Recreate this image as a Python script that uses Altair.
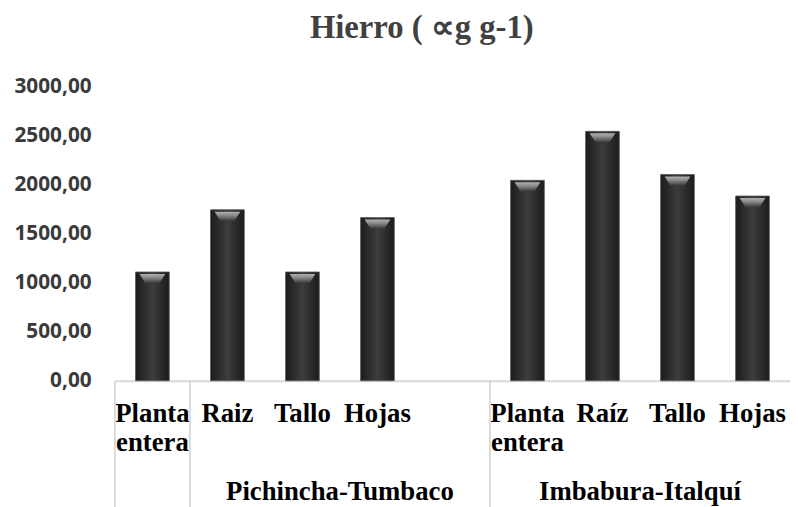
import altair as alt
import pandas as pd

title_text = "Hierro ( ∝g g-1)"
categories = ["Planta entera", "Raiz", "Tallo", "Hojas", "",
              "Planta entera", "Raíz", "Tallo", "Hojas"]
sites = ["", "Pichincha-Tumbaco", "Pichincha-Tumbaco", "Pichincha-Tumbaco",
         "Pichincha-Tumbaco", "Imbabura-Italquí", "Imbabura-Italquí",
         "Imbabura-Italquí", "Imbabura-Italquí"]
iron = [1110, 1745, 1110, 1665, None, 2045, 2545, 2105, 1885]
y_ticks = [0, 500, 1000, 1500, 2000, 2500, 3000]

keys = [f"{i}|{c}" for i, c in enumerate(categories)]
df = pd.DataFrame({"key": keys, "site": sites, "iron": iron})

sep_keys = [keys[i] for i in range(len(keys)) if i == 0 or sites[i] != sites[i - 1]]
group_rows = []
for s in dict.fromkeys(sites):
    if not s:
        continue
    idx = [i for i, v in enumerate(sites) if v == s]
    group_rows.append({"key": keys[idx[len(idx) // 2]], "site": s})

W, H = 682, 297

x_scale = alt.Scale(domain=keys, paddingInner=0, paddingOuter=0)
x_axis = alt.Axis(
    title=None,
    labelExpr="split(split(datum.label, '|')[1], ' ')",
    labelAngle=0, labelFont="Liberation Serif", labelFontWeight="bold",
    labelFontSize=27, labelColor="#000000", labelLineHeight=29,
    labelBaseline="top", labelPadding=20, labelAlign="center",
    ticks=False, tickSize=0, domainColor="#d9d9d9", domainWidth=2,
    grid=False, labelOverlap=False, labelLimit=0,
)
x_enc = alt.X("key:N", scale=x_scale, axis=x_axis, sort=keys)
x_edge = alt.X("key:N", scale=x_scale, axis=x_axis, sort=keys, bandPosition=0)

y_scale = alt.Scale(domain=[0, 3000], nice=False)
y_axis = alt.Axis(
    title=None, values=y_ticks,
    labelExpr="replace(format(datum.value, '.2f'), '.', ',')",
    labelFont="Open Sans", labelFontWeight="bold", labelFontSize=21,
    labelColor="#3a3a3a", labelPadding=24, ticks=False, tickSize=0,
    domain=False, grid=False,
)

bar_fill = alt.Gradient(
    gradient="linear", x1=0, x2=1, y1=0, y2=0,
    stops=[alt.GradientStop(offset=0, color="#1b1b1b"),
           alt.GradientStop(offset=0.5, color="#3d3d3d"),
           alt.GradientStop(offset=1, color="#1b1b1b")],
)
bars = alt.Chart(df).mark_bar(
    width=alt.RelativeBandSize(0.45), fill=bar_fill,
    stroke="#5a5a5a", strokeWidth=0.8,
).encode(x=x_enc, y=alt.Y("iron:Q", scale=y_scale, axis=y_axis))

hl_fill = alt.Gradient(
    gradient="linear", x1=0, x2=0, y1=0, y2=1,
    stops=[alt.GradientStop(offset=0, color="#b0b0b0"),
           alt.GradientStop(offset=0.4, color="#8a8a8a"),
           alt.GradientStop(offset=1, color="#3a3a3a")],
)
highlight = alt.Chart(df).mark_point(
    shape="M-1,0L1,0L0.55,0.7L-0.55,0.7Z", size=676, filled=True,
    fill=hl_fill, opacity=1, strokeWidth=0, yOffset=2,
).encode(x=x_enc, y=alt.Y("iron:Q", scale=y_scale, axis=y_axis))

seps = alt.Chart(pd.DataFrame({"key": sep_keys})).mark_rule(
    color="#d0d0d0", strokeWidth=1.5
).encode(x=x_edge, y=alt.value(H), y2=alt.value(H + 140))

glabels = alt.Chart(pd.DataFrame(group_rows)).mark_text(
    font="Liberation Serif", fontWeight="bold", fontSize=27, color="#000000",
    baseline="alphabetic", align="center",
).encode(x=x_edge, y=alt.value(H + 120), text="site:N")

chart = alt.layer(seps, bars, highlight, glabels).properties(
    width=W, height=H,
    padding={"left": 108, "top": 77, "right": 0, "bottom": 128},
    autosize=alt.AutoSizeParams(type="none"),
    title=alt.TitleParams(
        text=title_text, font="Liberation Serif", fontSize=33,
        fontWeight="bold", color="#404040", anchor="middle", frame="group",
        dx=-31, offset=31,
    ),
).configure_view(stroke=None)

chart.save("out.html", embed_options={"renderer": "svg", "actions": False})
